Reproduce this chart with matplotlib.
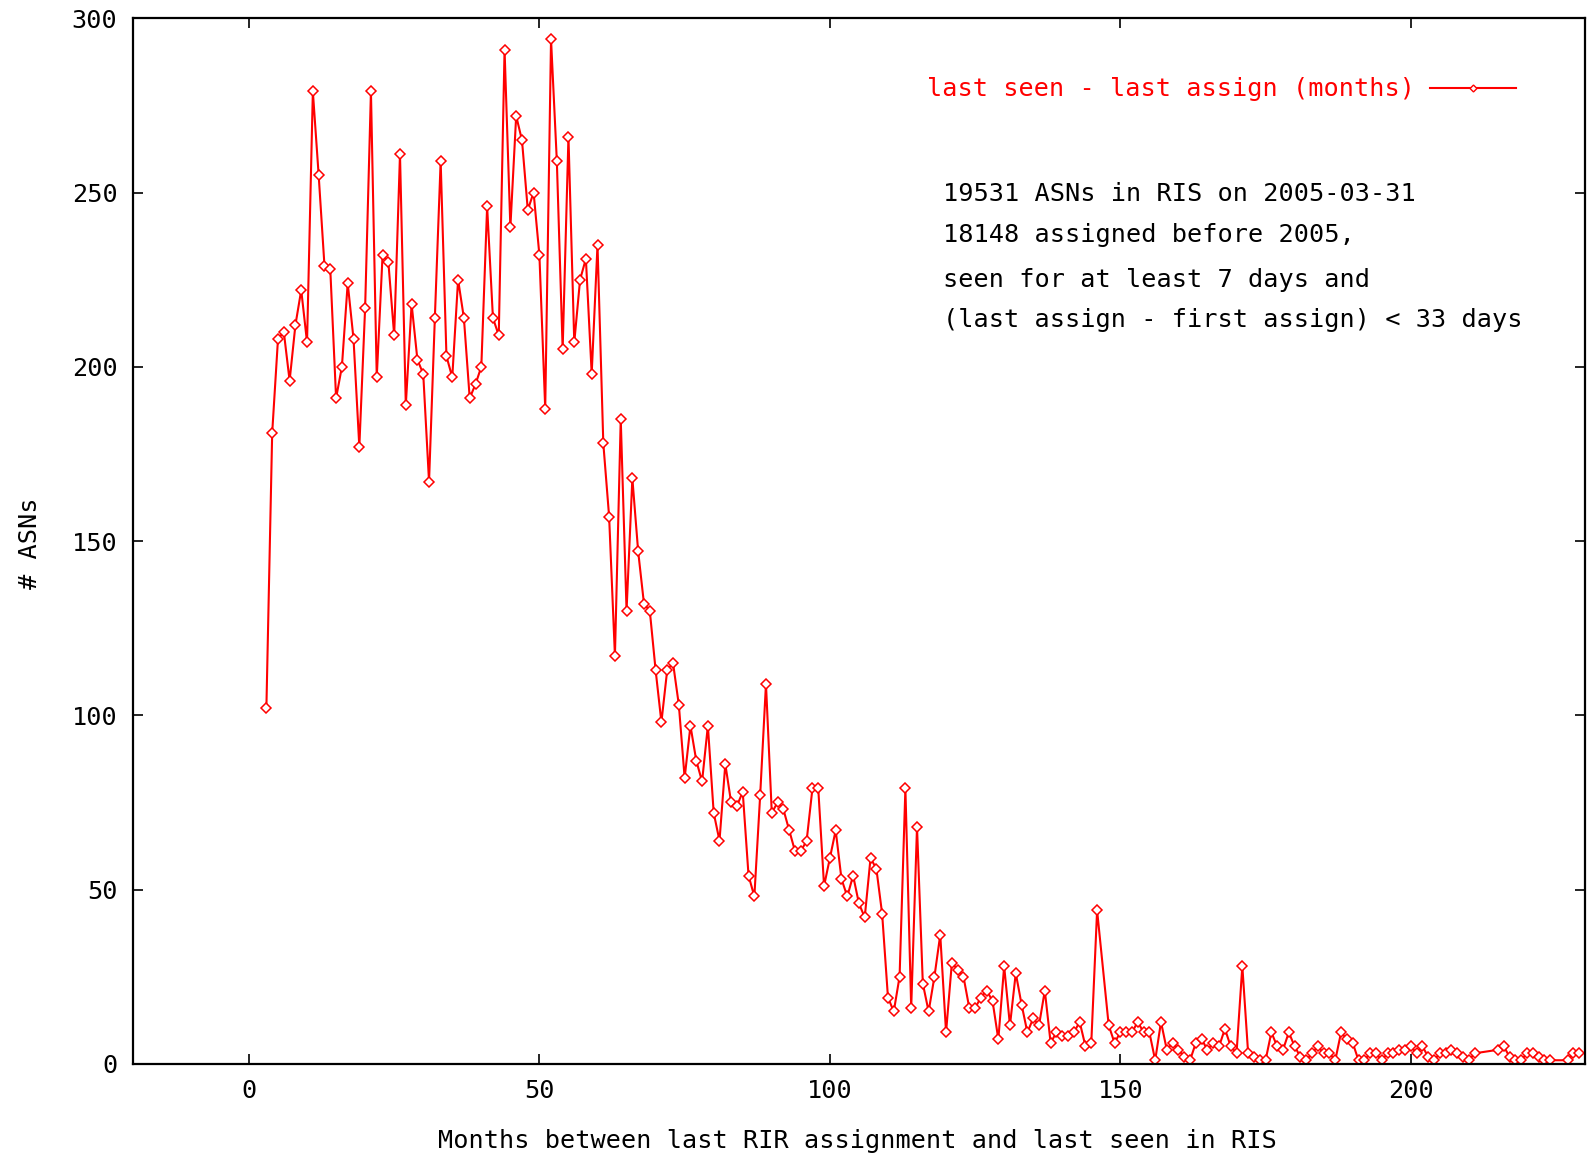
import matplotlib
matplotlib.use('Agg')
import matplotlib.pyplot as plt
from matplotlib.lines import Line2D

# months between last RIR assignment and last seen in RIS, and number of ASNs
months = [3, 4, 5, 6, 7, 8, 9, 10, 11, 12, 13, 14, 15, 16, 17, 18, 19, 20,
          21, 22, 23, 24, 25, 26, 27, 28, 29, 30, 31, 32, 33, 34, 35, 36, 37,
          38, 39, 40, 41, 42, 43, 44, 45, 46, 47, 48, 49, 50, 51, 52, 53, 54,
          55, 56, 57, 58, 59, 60, 61, 62, 63, 64, 65, 66, 67, 68, 69, 70, 71,
          72, 73, 74, 75, 76, 77, 78, 79, 80, 81, 82, 83, 84, 85, 86, 87, 88,
          89, 90, 91, 92, 93, 94, 95, 96, 97, 98, 99, 100, 101, 102, 103, 104,
          105, 106, 107, 108, 109, 110, 111, 112, 113, 114, 115, 116, 117, 118,
          119, 120, 121, 122, 123, 124, 125, 126, 127, 128, 129, 130, 131, 132,
          133, 134, 135, 136, 137, 138, 139, 140, 141, 142, 143, 144, 145, 146,
          148, 149, 150, 151, 152, 153, 154, 155, 156, 157, 158, 159, 160, 161,
          162, 163, 164, 165, 166, 167, 168, 169, 170, 171, 172, 173, 174, 175,
          176, 177, 178, 179, 180, 181, 182, 183, 184, 185, 186, 187, 188, 189,
          190, 191, 192, 193, 194, 195, 196, 197, 198, 199, 200, 201, 202, 203,
          204, 205, 206, 207, 208, 209, 210, 211, 215, 216, 217, 218, 219, 220,
          221, 222, 223, 224, 227, 228, 229]
asns = [102, 181, 208, 210, 196, 212, 222, 207, 279, 255, 229, 228, 191, 200,
        224, 208, 177, 217, 279, 197, 232, 230, 209, 261, 189, 218, 202, 198,
        167, 214, 259, 203, 197, 225, 214, 191, 195, 200, 246, 214, 209, 291,
        240, 272, 265, 245, 250, 232, 188, 294, 259, 205, 266, 207, 225, 231,
        198, 235, 178, 157, 117, 185, 130, 168, 147, 132, 130, 113, 98, 113,
        115, 103, 82, 97, 87, 81, 97, 72, 64, 86, 75, 74, 78, 54, 48, 77,
        109, 72, 75, 73, 67, 61, 61, 64, 79, 79, 51, 59, 67, 53, 48, 54,
        46, 42, 59, 56, 43, 19, 15, 25, 79, 16, 68, 23, 15, 25,
        37, 9, 29, 27, 25, 16, 16, 19, 21, 18, 7, 28, 11, 26,
        17, 9, 13, 11, 21, 6, 9, 8, 8, 9, 12, 5, 6, 44,
        11, 6, 9, 9, 9, 12, 9, 9, 1, 12, 4, 6, 4, 2,
        1, 6, 7, 4, 6, 5, 10, 5, 3, 28, 3, 2, 1, 1,
        9, 5, 4, 9, 5, 2, 1, 3, 5, 3, 3, 1, 9, 7,
        6, 1, 1, 3, 3, 1, 3, 3, 4, 4, 5, 3, 5, 2,
        1, 3, 3, 4, 3, 2, 1, 3, 4, 5, 2, 1, 1, 3,
        3, 2, 1, 1, 1, 3, 3]

xticks = [0, 50, 100, 150, 200]
yticks = [0, 50, 100, 150, 200, 250, 300]
note_lines = ['19531 ASNs in RIS on 2005-03-31',
              '18148 assigned before 2005,',
              'seen for at least 7 days and',
              '(last assign - first assign) < 33 days']

plt.rcParams['font.family'] = ['DejaVu Sans Mono']
fs = 18.2

fig = plt.figure(figsize=(15.9, 11.57), dpi=100)
ax = fig.add_axes([0.0835, 0.0806, 0.9134, 0.9036])

ax.plot(months, asns, color='#ff0000', lw=1.5, marker='D', ms=5.5,
        mfc='white', mec='#ff0000', mew=1.1)

ax.set_xlim(-20, 230)
ax.set_ylim(0, 300)
ax.set_xticks(xticks)
ax.set_yticks(yticks)
ax.tick_params(direction='in', length=7, width=1.2, top=True, right=True,
               labelsize=fs, pad=11)
for s in ax.spines.values():
    s.set_linewidth(1.6)

fig.text(857 / 1590, 1 - 1141 / 1157,
         'Months between last RIR assignment and last seen in RIS',
         ha='center', va='center', fontsize=fs)
fig.text(30 / 1590, 1 - 543 / 1157, '# ASNs', rotation=90,
         ha='center', va='center', fontsize=fs)

# legend
h = Line2D([], [], color='#ff0000', lw=1.5, marker='D', ms=3.5,
           mfc='white', mec='#ff0000')
leg = ax.legend([h], ['last seen - last assign (months)'], loc='center right',
                bbox_to_anchor=(0.968, 0.932), frameon=False, markerfirst=False,
                handlelength=3.4, handletextpad=0.6, fontsize=fs)
for t in leg.get_texts():
    t.set_color('#ff0000')

ys = [0.832, 0.793, 0.750, 0.711]
for line, y in zip(note_lines, ys):
    ax.text(0.558, y, line, transform=ax.transAxes, ha='left', va='center',
            fontsize=fs)

plt.savefig('out.png', dpi=100)
